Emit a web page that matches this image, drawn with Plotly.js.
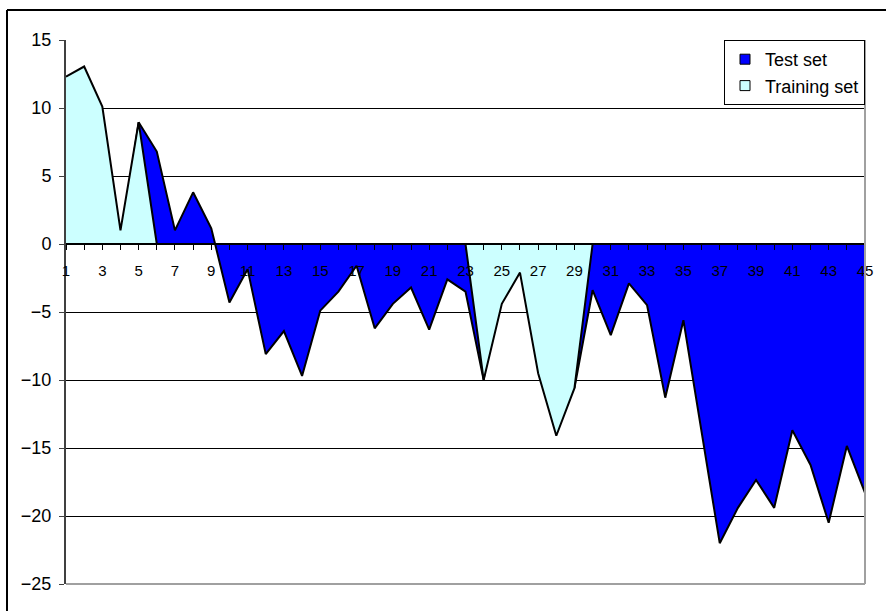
<!DOCTYPE html>
<html>
<head>
<meta charset="utf-8">
<script src="https://cdn.plot.ly/plotly-3.0.1.min.js"></script>
<style>
  html, body { margin: 0; padding: 0; background: #fff; overflow: hidden; }
  #chart { width: 886px; height: 611px; }
</style>
</head>
<body>
<div id="chart"></div>
<script>
const points = [1,2,3,4,5,6,7,8,9,10,11,12,13,14,15,16,17,18,19,20,21,22,23,24,25,26,27,28,29,30,31,32,33,34,35,36,37,38,39,40,41,42,43,44,45];
const testSet = [0,0,0,0,8.95,6.8,1.0,3.8,1.15,-4.3,-1.85,-8.1,-6.4,-9.7,-4.9,-3.5,-1.6,-6.2,-4.4,-3.2,-6.3,-2.6,-3.5,-10.0,0,0,0,0,-10.6,-3.4,-6.7,-2.9,-4.5,-11.3,-5.6,-13.8,-22.0,-19.4,-17.35,-19.4,-13.7,-16.25,-20.5,-14.85,-18.3];
const trainingSet = [12.3,13.05,10.1,1.0,8.95,0,0,0,0,0,0,0,0,0,0,0,0,0,0,0,0,0,0,-10.0,-4.4,-2.1,-9.5,-14.1,-10.6,0,0,0,0,0,0,0,0,0,0,0,0,0,0,0,0];
const seriesNames = ["Test set", "Training set"];
const seriesColors = ["#0000FF", "#CCFFFF"];
const xTickLabels = [1,3,5,7,9,11,13,15,17,19,21,23,25,27,29,31,33,35,37,39,41,43,45];
const yTickValues = [-25,-20,-15,-10,-5,0,5,10,15];

const FONT = "Liberation Sans, Arial, sans-serif";

const traces = [
  {
    x: points, y: testSet, type: "scatter", mode: "lines", fill: "tozeroy",
    fillcolor: seriesColors[0], line: {color: "#000", width: 2},
    name: seriesNames[0], showlegend: false, hoverinfo: "skip"
  },
  {
    x: points, y: trainingSet, type: "scatter", mode: "lines", fill: "tozeroy",
    fillcolor: seriesColors[1], line: {color: "#000", width: 2},
    name: seriesNames[1], showlegend: false, hoverinfo: "skip"
  },
  {
    x: [null], y: [null], type: "scatter", mode: "markers", name: seriesNames[0],
    marker: {symbol: "square", size: 10, color: seriesColors[0], line: {color: "#000", width: 1}}
  },
  {
    x: [null], y: [null], type: "scatter", mode: "markers", name: seriesNames[1],
    marker: {symbol: "square", size: 10, color: seriesColors[1], line: {color: "#000", width: 1}}
  }
];

const L = 66, R = 21, T = 40, B = 27;
const pw = 886 - L - R, ph = 611 - T - B;

const layout = {
  width: 886, height: 611,
  margin: {l: L, r: R, t: T, b: B, pad: 0},
  paper_bgcolor: "#fff", plot_bgcolor: "#fff",
  font: {family: FONT, color: "#000"},
  showlegend: true,
  legend: {
    x: 1, xanchor: "right", y: 1, yanchor: "top",
    bgcolor: "#fff", bordercolor: "#000", borderwidth: 1,
    font: {family: FONT, size: 18, color: "#000"},
    traceorder: "normal", itemwidth: 30, tracegroupgap: 6
  },
  xaxis: {
    range: [1, 45], tickmode: "array", tickvals: xTickLabels, ticktext: xTickLabels.map(String),
    anchor: "free", position: 25/40,
    showgrid: false, zeroline: false,
    showline: true, linecolor: "#000", linewidth: 2,
    ticks: "outside", ticklen: 5, tickcolor: "#000", tickwidth: 1,
    minor: {tickvals: points, ticks: "outside", ticklen: 5, tickcolor: "#000", tickwidth: 1},
    ticklabelstandoff: 8,
    tickfont: {family: FONT, size: 15, color: "#000"},
    layer: "above traces", fixedrange: true
  },
  yaxis: {
    range: [-25, 15], tickmode: "array", tickvals: yTickValues,
    showgrid: true, gridcolor: "#000", gridwidth: 1,
    zeroline: false,
    showline: true, linecolor: "#404040", linewidth: 2,
    ticks: "outside", ticklen: 5, tickcolor: "#404040", tickwidth: 1,
    ticklabelstandoff: 4,
    tickfont: {family: FONT, size: 18, color: "#000"},
    fixedrange: true
  },
  shapes: [
    {type: "line", xref: "paper", yref: "paper", x0: 1, x1: 1, y0: 0, y1: 1,
     line: {color: "#a0a0a0", width: 2}, layer: "above"},
    {type: "line", xref: "paper", yref: "paper", x0: 0, x1: 1, y0: 0, y1: 0,
     line: {color: "#a0a0a0", width: 2}, layer: "above"},
    {type: "line", xref: "paper", yref: "paper",
     x0: (7 - L) / pw, x1: (7 - L) / pw, y0: (584 - 625) / ph, y1: (584 - 10) / ph,
     line: {color: "#000", width: 2}, layer: "above"},
    {type: "line", xref: "paper", yref: "paper",
     x0: (7 - L) / pw, x1: (900 - L) / pw, y0: (584 - 10) / ph, y1: (584 - 10) / ph,
     line: {color: "#000", width: 2}, layer: "above"}
  ]
};

Plotly.newPlot("chart", traces, layout, {staticPlot: true, displayModeBar: false});
</script>
</body>
</html>
